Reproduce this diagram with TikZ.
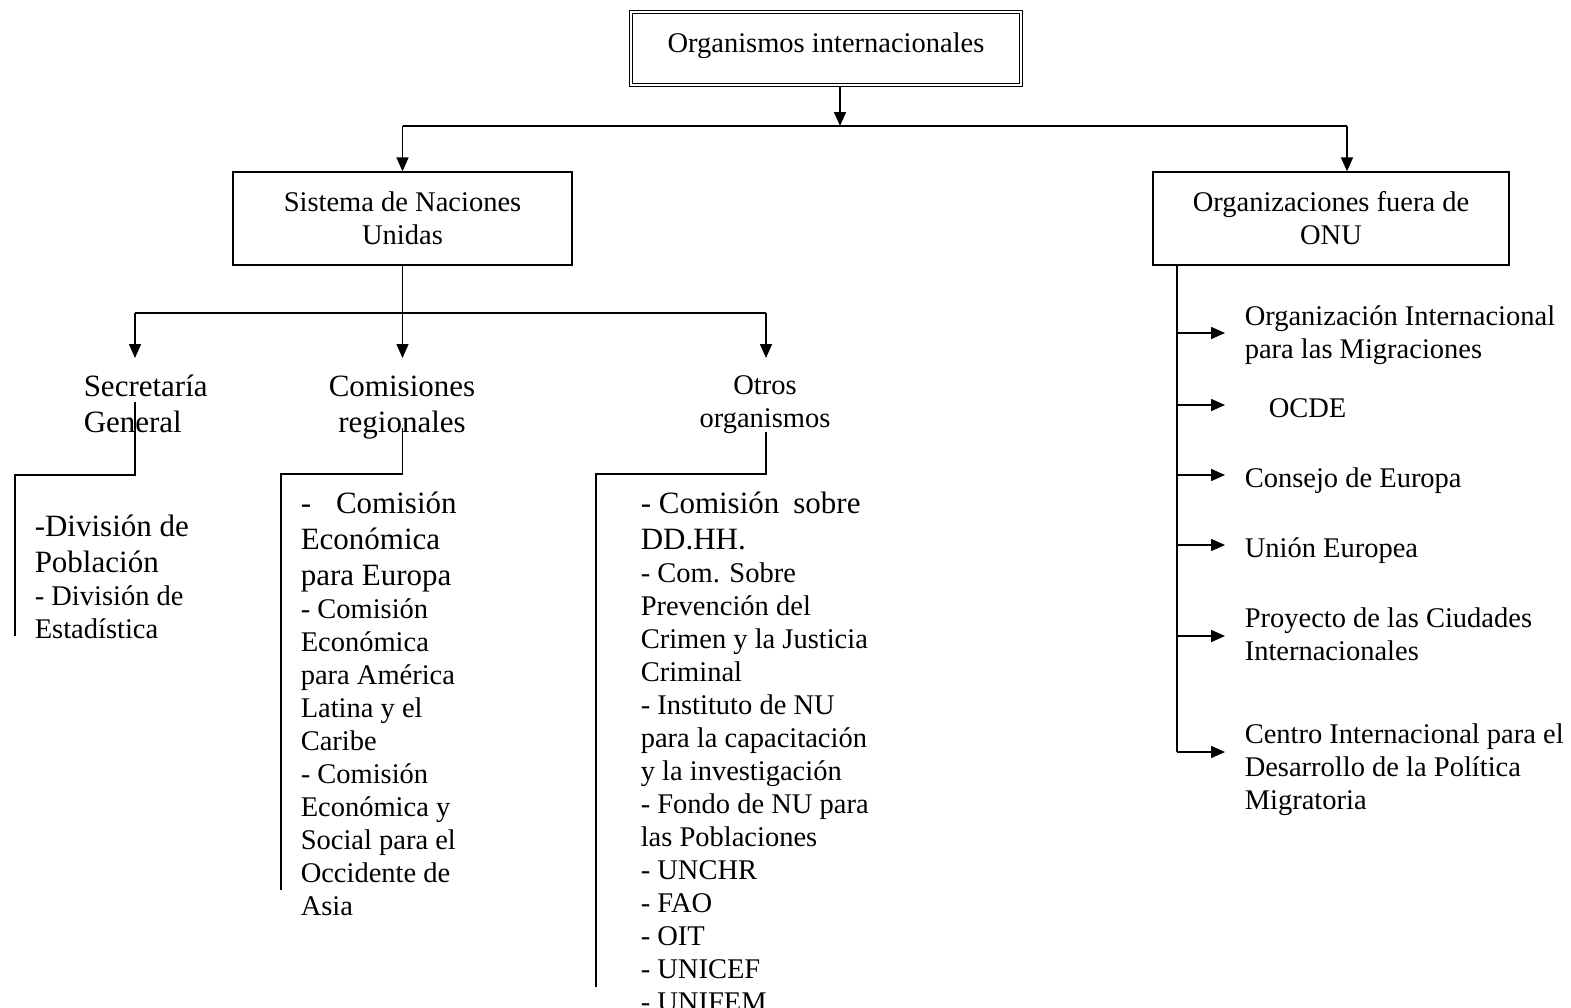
\documentclass[tikz,border=0pt]{standalone}
\usepackage{fontspec}
\setmainfont{Liberation Serif}
\usetikzlibrary{arrows.meta,positioning}

\newcommand{\normsize}{\fontsize{28.5}{33}\selectfont}
\newcommand{\bigsize}{\fontsize{31}{36}\selectfont}

\tikzset{
  box/.style={draw, line width=1.3pt, align=center, inner sep=0pt, font=\normsize},
  txt/.style={align=left, inner sep=0pt, anchor=base west, font=\normsize},
  bigtxt/.style={txt, font=\bigsize},
  head/.style={align=center, inner xsep=0pt, inner ysep=0pt, anchor=base},
}

\begin{document}
\begin{tikzpicture}[x=1pt, y=-1pt, line width=1.5pt,
  >={Triangle[length=14pt,width=12pt]}]

\useasboundingbox (0,0) rectangle (1571,1007);

% Root
\node[box, double, double distance=2pt, line width=1.2pt, minimum width=390,
  text height=40pt, text depth=33pt, anchor=base] (root) at (826,52) {Organismos internacionales};

% First level
\node[box, minimum width=339, minimum height=93] (snu) at (402.5,218.5) {Sistema de Naciones\\Unidas};
\node[box, minimum width=356, minimum height=93] (fuera) at (1331,218.5) {Organizaciones fuera de\\ONU};

\coordinate (hub) at (840,126);
\coordinate (hl) at (402.5,126);
\coordinate (hr) at (1347,126);
\draw[->] (hub |- root.south) -- (hub);
\draw (hl) -- (hr);
\draw[->] (hl) -- (snu.north);
\draw[->] (hr) -- (hr |- fuera.north);

% Second level (base = last line)
\node[head, align=left, anchor=base west, font=\bigsize] (sg) at (83,432) {Secretaría\\General};
\node[head, font=\bigsize] (cr) at (402,432) {Comisiones\\regionales};
\node[head, font=\normsize] (oo) at (765,427) {Otros\\organismos};

\coordinate (h2l) at (135,313);
\coordinate (h2r) at (766,313);
\draw (snu.south) -- (snu.south |- h2l);
\draw (h2l) -- (h2r);
\draw[->] (h2l) -- (h2l |- 0,358);
\draw[->] (snu.south |- h2l) -- (snu.south |- 0,358);
\draw[->] (h2r) -- (h2r |- 0,358);

% Secretaria General
\node[bigtxt] (sg1) at (34,572) {-División de\\Población};
\node[txt] (sg2) at (34,638) {- División de\\Estadística};
\coordinate (sgt) at (15,475);
\coordinate (sgb) at (15,636);
\draw (h2l |- 0,402) |- (sgt) -- (sgb);

% Comisiones regionales
\node[bigtxt] (cr1) at (300,585) {-\hspace{25pt}Comisión\\Económica\\para Europa};
\node[txt] (cr2) at (300,915) {- Comisión\\Económica\\para América\\Latina y el\\Caribe\\- Comisión\\Económica y\\Social para el\\Occidente de\\Asia};
\coordinate (crt) at (281,474);
\coordinate (crb) at (281,890);
\draw (snu.south |- 0,428) |- (crt) -- (crb);

% Otros organismos
\node[bigtxt] (oo1) at (640,549) {- Comisión\hspace{14pt}sobre\\DD.HH.};
\node[txt] (oo2) at (640,1011) {- Com. Sobre\\Prevención del\\Crimen y la Justicia\\Criminal\\- Instituto de NU\\para la capacitación\\y la investigación\\- Fondo de NU para\\las Poblaciones\\- UNCHR\\- FAO\\- OIT\\- UNICEF\\- UNIFEM};
\coordinate (oot) at (596,474);
\coordinate (oob) at (596,987);
\draw (h2r |- 0,432) |- (oot) -- (oob);

% Fuera de ONU
\node[txt] (oim) at (1244,358) {Organización Internacional\\para las Migraciones};
\node[txt] (ocde) at (1268,417) {OCDE};
\node[txt] (ce) at (1244,487) {Consejo de Europa};
\node[txt] (ue) at (1244,557) {Unión Europea};
\node[txt] (pci) at (1244,660) {Proyecto de las Ciudades\\Internacionales};
\node[txt] (cip) at (1244,809) {Centro Internacional para el\\Desarrollo de la Política\\Migratoria};

\coordinate (vb) at (1177,752);
\draw (fuera.south -| vb) -- (vb);
\foreach \n/\y in {oim/333, ocde/405, ce/475, ue/545, pci/636, cip/752}
  \draw[->] (vb |- 0,\y) -- ([xshift=-19pt]oim.west |- 0,\y);

\end{tikzpicture}
\end{document}
